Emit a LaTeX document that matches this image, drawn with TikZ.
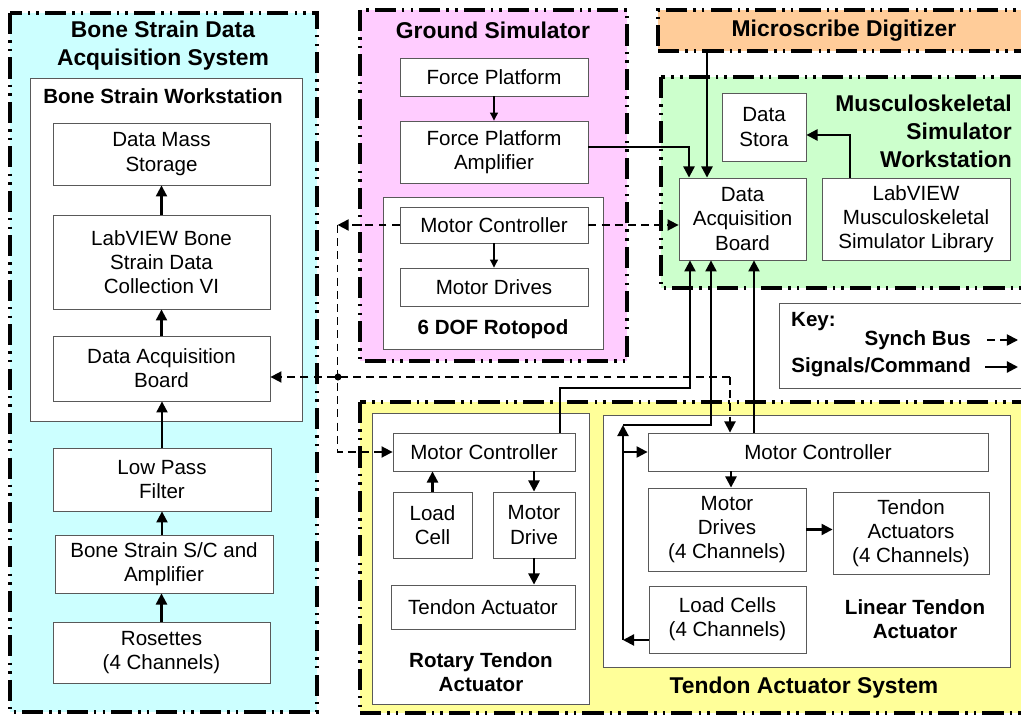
\documentclass[tikz,border=0pt]{standalone}
\usepackage{fontspec}
\setmainfont{Liberation Sans}
\usetikzlibrary{arrows.meta,calc}

\definecolor{bonefill}{RGB}{204,255,255}
\definecolor{groundfill}{RGB}{255,204,255}
\definecolor{scribefill}{RGB}{255,204,153}
\definecolor{musclefill}{RGB}{204,255,204}
\definecolor{tendonfill}{RGB}{255,255,153}

\begin{document}
\begin{tikzpicture}[x=0.02cm,y=-0.02cm,
    every node/.style={font=\fontsize{11.7}{13.8}\selectfont},
    sysframe/.style={line width=2pt,dash pattern=on 12pt off 3.5pt on 1.4pt off 3.5pt on 1.4pt off 3.5pt},
    panel/.style={draw=black!65,line width=0.5pt,fill=white},
    blk/.style={draw=black!65,line width=0.5pt,fill=white,align=center,inner sep=0pt},
    head/.style={font=\fontsize{13}{15.9}\selectfont\bfseries,align=center},
    subhead/.style={font=\fontsize{11.7}{13.8}\selectfont\bfseries,align=center},
    sig/.style={line width=1.2pt,-{Triangle[length=6.3pt,width=6.3pt]}},
    thinsig/.style={line width=0.6pt,-{Triangle[length=4.5pt,width=4.5pt]}},
    syncbus/.style={line width=1pt,dash pattern=on 4.5pt off 3pt,-{Triangle[length=6.3pt,width=6.3pt]}}]
\useasboundingbox (0,0) rectangle (1021,715);

% Drawing frame Bone Strain Data Acquisition System
\draw[sysframe,fill=bonefill] (10,13) rectangle (317,712);%
\node[head] (bsTitle) at (163,46) {Bone Strain Data\\Acquisition System};%
\draw[panel] (30,78) rectangle (302,421);%
\node[subhead] (bsWork) at (163,96) {Bone Strain Workstation};%
\node[blk,minimum width=4.34cm,minimum height=1.24cm] (bsStore) at (161.5,154) {Data Mass\\Storage};%
\node[blk,minimum width=4.34cm,minimum height=1.88cm] (bsVI) at (161.5,262) {LabVIEW Bone\\Strain Data\\Collection VI};%
\node[blk,minimum width=4.34cm,minimum height=1.30cm] (bsDAQ) at (161.5,368.5) {Data Acquisition\\Board};%
\node[blk,minimum width=4.36cm,minimum height=1.26cm] (bsFilter) at (162,479.5) {Low Pass\\Filter};%
\node[blk,minimum width=4.36cm,minimum height=1.16cm] (bsAmp) at (164,564) {Bone Strain S/C and\\Amplifier};%
\node[blk,minimum width=4.34cm,minimum height=1.22cm] (bsRos) at (161.5,652.5) {Rosettes\\(4 Channels)};%

% Drawing frame Ground Simulator
\draw[sysframe,fill=groundfill] (360,10) rectangle (627,361);%
\node[head] (gsTitle) at (493,30) {Ground Simulator};%
\node[blk,minimum width=3.76cm,minimum height=0.76cm] (gsFP) at (494,77) {Force Platform};%
\node[blk,minimum width=3.76cm,minimum height=1.24cm] (gsAmp) at (494,152) {Force Platform\\Amplifier};%
\draw[panel] (383,197) rectangle (603,349);%
\node[blk,minimum width=3.76cm,minimum height=0.72cm] (gsMC) at (494,225) {Motor Controller};%
\node[blk,minimum width=3.76cm,minimum height=0.76cm] (gsMD) at (494,287) {Motor Drives};%
\node[subhead] (gsRoto) at (493,329) {6 DOF Rotopod};%

% Drawing frame Microscribe Digitizer
\node[sysframe,draw,fill=scribefill,minimum width=7.44cm,minimum height=0.82cm,head] (digitizer) at (844,30.5) {Microscribe Digitizer};%

% Drawing frame Musculoskeletal Simulator Workstation
\draw[sysframe,fill=musclefill] (661,77) rectangle (1030,288);%
\node[head,align=right,anchor=east] (msTitle) at (1018,131) {Musculoskeletal\\Simulator\\Workstation};%
\node[blk,minimum width=1.68cm,minimum height=1.36cm] (msStore) at (764,127) {Data\\Stora};%
\node[blk,minimum width=2.54cm,minimum height=1.64cm] (msDAQ) at (742.5,219) {Data\\Acquisition\\Board};%
\node[blk,minimum width=3.76cm,minimum height=1.64cm] (msLib) at (916,219) {LabVIEW\\Musculoskeletal\\Simulator Library};%

% Drawing key
\draw[panel] (779,303) rectangle (1030,388);%
\node[subhead,anchor=west] (keyTitle) at (785,322) {Key:};%
\node[subhead,anchor=east] (keySync) at (977,340) {Synch Bus};%
\node[subhead,anchor=east] (keySig) at (977,367) {Signals/Command};%
\coordinate (keySyncEnd) at (1018,340);%
\coordinate (keySigEnd) at (1018,367);%

% Drawing frame Tendon Actuator System
\draw[sysframe,fill=tendonfill] (360,402) rectangle (1030,713);%
\node[head] (taTitle) at (804,688) {Tendon Actuator System};%

% Rotary tendon actuator
\draw[panel] (372,413) rectangle (589,704);%
\node[subhead] (rtLabel) at (481,672) {Rotary Tendon\\Actuator};%
\node[blk,minimum width=3.64cm,minimum height=0.76cm] (rtMC) at (484,452) {Motor Controller};%
\node[blk,minimum width=1.58cm,minimum height=1.32cm] (rtLoad) at (432.5,525) {Load\\Cell};%
\node[blk,minimum width=1.64cm,minimum height=1.32cm] (rtDrive) at (534,525) {Motor\\Drive};%
\node[blk,minimum width=3.68cm,minimum height=0.88cm] (rtAct) at (483,607) {Tendon Actuator};%

% Linear tendon actuator
\draw[panel] (603,415) rectangle (1010,667);%
\node[subhead] (ltLabel) at (915,619) {Linear Tendon\\Actuator};%
\node[blk,minimum width=6.80cm,minimum height=0.76cm] (ltMC) at (818,452) {Motor Controller};%
\node[blk,minimum width=3.16cm,minimum height=1.66cm] (ltDrive) at (727,529.5) {Motor\\Drives\\(4 Channels)};%
\node[blk,minimum width=3.12cm,minimum height=1.64cm] (ltAct) at (911,533) {Tendon\\Actuators\\(4 Channels)};%
\node[blk,minimum width=3.14cm,minimum height=1.34cm] (ltLoad) at (727.5,619.5) {Load Cells\\(4 Channels)};%

% Drawing signal paths inside the frames
\draw[sig] (bsRos.north) -- (bsRos.north |- bsAmp.south);%
\draw[sig] (bsFilter.south |- bsAmp.north) -- (bsFilter.south);%
\draw[sig] (bsFilter.north) -- (bsFilter.north |- bsDAQ.south);%
\draw[sig] (bsDAQ.north) -- (bsVI.south);%
\draw[sig] (bsVI.north) -- (bsStore.south);%
\draw[thinsig] (gsFP.south) -- (gsAmp.north);%
\draw[thinsig] (gsMC.south) -- (gsMD.north);%
\draw[sig] ($(msLib.north)+(-66,0)$) |- ($(msStore.east)+(0,8)$);%
\draw[sig] (rtLoad.north) -- (rtLoad.north |- rtMC.south);%
\draw[sig] (rtDrive.north |- rtMC.south) -- (rtDrive.north);%
\draw[sig] (rtDrive.south) -- (rtDrive.south |- rtAct.north);%
\draw[sig] ($(ltDrive.north |- ltMC.south)+(4,0)$) -- ($(ltDrive.north)+(4,0)$);%
\draw[sig] (ltDrive.east) -- (ltAct.west |- ltDrive.east);%

% Drawing signal paths into the musculoskeletal data acquisition board
\coordinate (daqA) at ($(msDAQ.north)+(-53.5,0)$);%
\coordinate (daqB) at ($(msDAQ.north)+(-35.5,0)$);%
\coordinate (daqC) at ($(msDAQ.south)+(-52.5,0)$);%
\coordinate (daqD) at ($(msDAQ.south)+(-31.5,0)$);%
\coordinate (daqE) at ($(msDAQ.south)+(11.5,0)$);%
\draw[sig] ($(gsAmp.east)+(0,-5)$) -| (daqA);%
\draw[sig] (digitizer.south -| daqB) -- (daqB);%
\draw[sig] ($(rtMC.north)+(76,0)$) -- ++(0,-45) -| (daqC);%
\draw[sig] (ltMC.north -| daqE) -- (daqE);%

% Load cell loop of the linear actuator
\coordinate (loadBus) at (623,640);%
\coordinate (loadTop) at (623,425);%
\draw[sig] (ltLoad.west |- loadBus) -- (loadBus);%
\draw[sig] (loadBus) -- (loadTop);%
\draw[sig] (loadTop) -| (daqD);%
\draw[sig] (loadBus |- ltMC.west) -- (ltMC.west);%

% Drawing synch bus
\coordinate (busTop) at ($(gsMC.west)+(-62,0)$);%
\coordinate (busJoin) at (338,377);%
\coordinate (busEnd) at (730,377);%
\draw[syncbus] (gsMC.east) -- (gsMC.east -| msDAQ.west);%
\draw[syncbus] (gsMC.west) -- (busTop);%
\draw[syncbus] (busTop) |- (rtMC.west);%
\draw[syncbus] (busEnd) -- (busJoin -| bsDAQ.east);%
\draw[syncbus] (busEnd) -- (busEnd |- ltMC.north);%
\fill (busJoin) circle[radius=2pt];%

% Key samples
\draw[syncbus] ($(keySyncEnd)+(-31,0)$) -- (keySyncEnd);%
\draw[sig] ($(keySigEnd)+(-33,0)$) -- (keySigEnd);%
\end{tikzpicture}
\end{document}
